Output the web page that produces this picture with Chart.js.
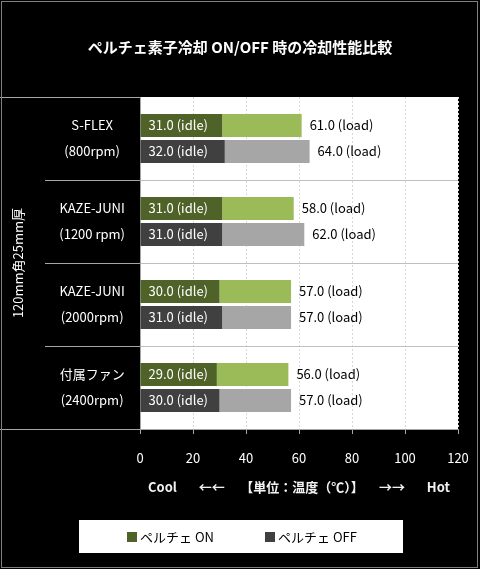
<!DOCTYPE html>
<html>
<head>
<meta charset="utf-8">
<script src="https://cdn.jsdelivr.net/npm/chart.js@4.4.0/dist/chart.umd.min.js"></script>
<style>
  html, body { margin: 0; padding: 0; background: #000; }
</style>
</head>
<body>
<canvas id="coolChart" width="480" height="569"></canvas>
<script>
// fans on the y axis (two-line labels)
const fanNames = [['S-FLEX', '(800rpm)'], ['KAZE-JUNI', '(1200 rpm)'], ['KAZE-JUNI', '(2000rpm)'], ['付属ファン', '(2400rpm)']]
// temperatures, peltier ON / OFF
const onIdle = [31, 31, 30, 29]
const onLoad = [61, 58, 57, 56]
const offIdle = [32, 31, 31, 30]
const offLoad = [64, 62, 57, 57]
const xTicks = [0, 20, 40, 60, 80, 100, 120]

const FONT = "'Noto Sans CJK JP', 'Noto Sans', sans-serif"
Chart.defaults.font.family = FONT
Chart.defaults.font.size = 13

// load part is stacked on top of idle
const onRest = onLoad.map((v, i) => v - onIdle[i])
const offRest = offLoad.map((v, i) => v - offIdle[i])

const decor = {
    id: 'decor',
    beforeDraw(chart) {
        const ctx = chart.ctx
        const a = chart.chartArea
        ctx.save()
        ctx.fillStyle = '#000'
        ctx.fillRect(0, 0, chart.width, chart.height)
        ctx.fillStyle = '#fff'
        ctx.fillRect(a.left, a.top, a.right - a.left, a.bottom - a.top)
        ctx.restore()
    },
    afterDraw(chart) {
        const ctx = chart.ctx
        const y = chart.scales.y
        const a = chart.chartArea
        ctx.save()
        // lines in the left label area
        ctx.strokeStyle = '#a6a6a6'
        ctx.lineWidth = 1
        for (let i = 0; i <= fanNames.length; i++) {
            let py = Math.round(y.getPixelForValue(i - 0.5)) + 0.5
            let x0 = (i == 0 || i == fanNames.length) ? 0 : 45
            ctx.beginPath()
            ctx.moveTo(x0, py)
            ctx.lineTo(a.left, py)
            ctx.stroke()
        }
        // legend box
        const cx = chart.width / 2
        ctx.fillStyle = '#fff'
        ctx.fillRect(cx - 161, 520, 324, 33)
        const items = [0, 2]
        const xs = [cx - 113, cx + 25]
        ctx.font = '13px ' + FONT
        ctx.textBaseline = 'middle'
        ctx.textAlign = 'left'
        items.forEach((d, k) => {
            const ds = chart.data.datasets[d]
            ctx.fillStyle = ds.backgroundColor
            ctx.fillRect(xs[k], 532, 10, 10)
            ctx.fillStyle = '#000'
            ctx.fillText(ds.label, xs[k] + 13, 537)
        })
        // outer frame
        ctx.strokeStyle = '#808080'
        ctx.strokeRect(1.5, 1.5, chart.width - 4, chart.height - 3)
        ctx.restore()
    },
    afterDatasetsDraw(chart) {
        const ctx = chart.ctx
        ctx.save()
        ctx.font = '13px ' + FONT
        ctx.textBaseline = 'middle'
        ctx.textAlign = 'left'
        const pairs = [[0, 1, onIdle, onLoad], [2, 3, offIdle, offLoad]]
        pairs.forEach(p => {
            const idleMeta = chart.getDatasetMeta(p[0])
            const loadMeta = chart.getDatasetMeta(p[1])
            idleMeta.data.forEach((bar, i) => {
                ctx.fillStyle = '#fff'
                ctx.fillText(p[2][i].toFixed(1) + ' (idle)', bar.base + 8, bar.y)
            })
            loadMeta.data.forEach((bar, i) => {
                ctx.fillStyle = '#000'
                ctx.fillText(p[3][i].toFixed(1) + ' (load)', bar.x + 8, bar.y)
            })
        })
        ctx.restore()
    }
}

new Chart(document.getElementById('coolChart'), {
    type: 'bar',
    data: {
        labels: fanNames,
        datasets: [
            { label: 'ペルチェ ON', data: onIdle, stack: 'on', backgroundColor: '#4f6228' },
            { label: 'ON load', data: onRest, stack: 'on', backgroundColor: '#9bbb59' },
            { label: 'ペルチェ OFF', data: offIdle, stack: 'off', backgroundColor: '#404040' },
            { label: 'OFF load', data: offRest, stack: 'off', backgroundColor: '#a6a6a6' },
        ]
    },
    options: {
        indexAxis: 'y',
        responsive: false,
        animation: false,
        categoryPercentage: 0.627,
        barPercentage: 0.88,
        borderWidth: 0,
        layout: { padding: { left: 22, right: 22, top: 0, bottom: 49 } },
        scales: {
            x: {
                stacked: true,
                min: 0,
                max: 120,
                afterBuildTicks: s => { s.ticks = xTicks.map(v => ({ value: v })) },
                afterFit: s => { s.height = 91; s.paddingRight = 0 },
                ticks: { color: '#fff', padding: 16 },
                grid: { color: '#d9d9d9', tickColor: '#a6a6a6', tickLength: 5, tickBorderDash: [] },
                border: { color: '#a6a6a6', dash: [2, 2] },
                title: {
                    display: true,
                    text: 'Cool　   ←←   　【単位：温度（℃）】　   →→   　Hot',
                    color: '#f2f2f2',
                    font: { weight: 'bold' },
                    padding: { top: 0, bottom: 25 }
                }
            },
            y: {
                stacked: true,
                afterFit: s => { s.width = 118 },
                ticks: { color: '#fff', crossAlign: 'center', padding: 15, font: { lineHeight: 2 } },
                grid: {
                    offset: true,
                    drawTicks: false,
                    color: c => c.index === 0 ? 'rgba(0,0,0,0)' : '#bfbfbf'
                },
                border: { color: '#a6a6a6' },
                title: {
                    display: true,
                    text: '120mm角25mm厚',
                    color: '#fff',
                    padding: { top: -12, bottom: 0 }
                }
            }
        },
        plugins: {
            legend: { display: false },
            tooltip: { enabled: false },
            title: {
                display: true,
                text: 'ペルチェ素子冷却 ON/OFF 時の冷却性能比較',
                color: '#fff',
                font: { size: 15, weight: 'bold' },
                padding: { top: 38, bottom: 41 }
            }
        }
    },
    plugins: [decor]
})
</script>
</body>
</html>
